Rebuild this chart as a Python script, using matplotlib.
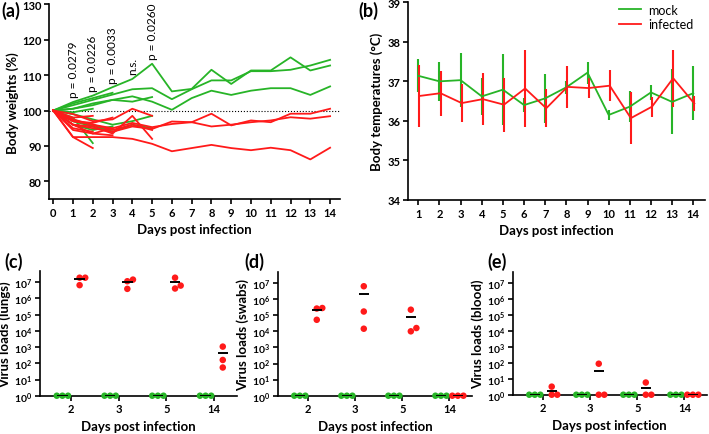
import numpy as np
import matplotlib.pyplot as plt

plt.rcParams['font.family'] = ['Lato', 'DejaVu Sans']
plt.rcParams['mathtext.fontset'] = 'custom'
plt.rcParams['mathtext.rm'] = 'Lato'
plt.rcParams['mathtext.bf'] = 'Lato:bold'

GREEN = '#27b427'
RED = '#ff1a1a'

# (a) body weights (%) per mouse, from day 0
mock_weights = [
    [100, 98, 90.8],
    [100, 99.5, 100.5],
    [100, 97, 95.5],
    [100, 102, 103.5, 105],
    [100, 97, 96, 94],
    [100, 96, 94.5, 95.5],
    [100, 99, 97.5, 96, 97, 98.5],
    [100, 97.5, 95.5, 94, 96, 95],
    [100, 100.5, 102, 103, 102.5, 103.8],
    [100, 102.4, 104.2, 106.6, 108.9, 113.2, 105.4, 106.1, 111.5, 107.5, 111.3, 111.3, 115, 111.3, 112.7],
    [100, 101.5, 103, 104.5, 106, 106.3, 103.2, 106, 108.5, 108.5, 111.1, 111.1, 111.5, 112.7, 114.3],
    [100, 100.5, 101.5, 103, 104, 102.5, 100.2, 103.5, 105.6, 104.4, 105.6, 106.3, 106.3, 104.4, 106.8],
]
infected_weights = [
    [100, 92.5, 89.4],
    [100, 95, 94],
    [100, 98, 98.5],
    [100, 94.5, 93.5, 93],
    [100, 97, 96.5, 98],
    [100, 96, 93.5, 95],
    [100, 96, 95.5, 93.5, 98.5, 92],
    [100, 99, 97, 97.5, 100.5, 98.5],
    [100, 97.5, 96, 94.5, 96, 94.5],
    [100, 92.5, 92.5, 92.5, 92, 90.6, 88.5, 89.4, 90.3, 89.4, 88.8, 89.5, 88.8, 86.2, 89.5],
    [100, 96, 95, 94, 95.5, 94.8, 96.9, 96.7, 99.1, 95.8, 97.2, 96.7, 99.1, 99.1, 100.5],
    [100, 97, 96, 95, 96.5, 95.3, 96.2, 96.7, 95.5, 96.0, 96.7, 97.2, 98.1, 97.7, 98.4],
]
pval_days = [1, 2, 3, 4, 5]
pval_text = ['p = 0.0279', 'p = 0.0226', 'p = 0.0033', 'n.s.', 'p = 0.0260']

# (b) body temperature, mean and SD
temp_days = np.arange(1, 15)
mock_temp = [37.14, 37.0, 37.03, 36.62, 36.79, 36.4, 36.57, 36.85, 37.22, 36.15, 36.36, 36.72, 36.48, 36.7]
mock_sd = [0.42, 0.5, 0.68, 0.46, 0.9, 0.18, 0.62, 0.17, 0.28, 0.12, 0.4, 0.2, 0.82, 0.68]
inf_temp = [36.63, 36.7, 36.45, 36.55, 36.41, 36.82, 36.32, 36.86, 36.83, 36.89, 36.07, 36.36, 37.08, 36.44]
inf_sd = [0.78, 0.57, 0.48, 0.66, 0.68, 0.98, 0.48, 0.54, 0.25, 0.39, 0.65, 0.25, 0.72, 0.18]

# (c)-(e) virus loads
load_days = ['2', '3', '5', '14']
lungs_mock = [[1, 1, 1]] * 4
lungs_inf = [[1.9e7, 6.6e6, 1.9e7], [1.45e7, 3.9e6, 1.15e7], [1.9e7, 4.1e6, 6.2e6], [1.07e3, 160, 55]]
swabs_mock = [[1, 1, 1]] * 4
swabs_inf = [[2.8e5, 2.6e5, 5.2e4], [6.3e6, 1.7e5, 1.45e4], [2.2e5, 1.0e4, 1.6e4], [1, 1, 1]]
blood_mock = [[1, 1, 1]] * 4
blood_inf = [[3.2, 1, 1], [87, 1, 1], [5.8, 1, 1], [1, 1, 1]]

fig = plt.figure(figsize=(7.09, 4.35), dpi=100)


def style(ax):
    for s in ['top', 'right']:
        ax.spines[s].set_visible(False)
    for s in ['left', 'bottom']:
        ax.spines[s].set_linewidth(1.2)
    ax.tick_params(width=1.2, length=3.5, labelsize=8, pad=2)
    for lab in ax.get_xticklabels() + ax.get_yticklabels():
        lab.set_fontweight('bold')


# ---- (a)
ax = fig.add_axes([0.0695, 0.540, 0.41, 0.448])
ax.axhline(100, color='k', ls=':', lw=0.8, zorder=1)
for w in mock_weights:
    ax.plot(np.arange(len(w)), w, color=GREEN, lw=1.3, zorder=2)
for w in infected_weights:
    ax.plot(np.arange(len(w)), w, color=RED, lw=1.3, zorder=3)
for d, t in zip(pval_days, pval_text):
    top = max(w[d] for w in mock_weights if len(w) > d)
    ax.text(d, top + 1.3, t, rotation=90, ha='center', va='bottom', fontsize=8.5)
ax.set_xlim(-0.2, 14.5)
ax.set_ylim(75, 130)
ax.set_xticks(range(15))
ax.set_yticks([80, 90, 100, 110, 120, 130])
ax.set_xlabel('Days post infection', fontsize=9.5, fontweight='bold', labelpad=4)
ax.set_ylabel('Body weights (%)', fontsize=9.5, fontweight='bold', labelpad=2)
style(ax)
fig.text(0.002, 0.975, '(a)', fontsize=13, fontweight='bold', va='center')

# ---- (b)
ax = fig.add_axes([0.576, 0.538, 0.4185, 0.4545])
ax.errorbar(temp_days, mock_temp, yerr=mock_sd, color=GREEN, lw=1.3, elinewidth=1.5, label='mock')
ax.errorbar(temp_days + 0.05, inf_temp, yerr=inf_sd, color=RED, lw=1.3, elinewidth=1.5, label='infected')
ax.set_xlim(0.53, 14.56)
ax.set_ylim(34, 39)
ax.set_xticks(temp_days)
ax.set_yticks([34, 35, 36, 37, 38, 39])
ax.set_xlabel('Days post infection', fontsize=9.5, fontweight='bold', labelpad=4)
ax.set_ylabel('Body temperatures (°C)', fontsize=9.5, fontweight='bold', labelpad=3)
handles, labels = ax.get_legend_handles_labels()
handles = [h[0] for h in handles]
ax.legend(handles, labels, loc='upper right', bbox_to_anchor=(1.0, 1.05), frameon=False,
          fontsize=9, handlelength=1.8, handletextpad=0.6, labelspacing=0.2)
style(ax)
fig.text(0.505, 0.975, '(b)', fontsize=13, fontweight='bold', va='center')

# ---- (c)-(e)
PX_UNIT = 47.5
PX_DEC = 16.2
DOT_PX = 5.6


def swarm(vals, center):
    xs = np.zeros(len(vals))
    placed = []
    for i in np.argsort(vals, kind='stable'):
        y = np.log10(vals[i]) * PX_DEC
        for k in [0, 1, -1, 2, -2, 3, -3]:
            x = k * DOT_PX
            if all(np.hypot(x - px, y - py) >= DOT_PX * 0.95 for px, py in placed):
                break
        placed.append((x, y))
        xs[i] = center + x / PX_UNIT
    return xs


def loads_panel(rect, mock, inf, ylabel, letter, lx):
    ax = fig.add_axes(rect)
    for i in range(len(load_days)):
        for vals, off, col in [(mock[i], -0.18, GREEN), (inf[i], 0.18, RED)]:
            xs = swarm(vals, i + off)
            ax.scatter(xs, vals, s=22, color=col, edgecolors='none', zorder=3, clip_on=False)
            ax.hlines(np.mean(vals), i + off - 0.11, i + off + 0.11, color='k', lw=1.4, zorder=4)
    ax.set_yscale('log')
    ax.set_ylim(1, 10 ** 7.7)
    ax.set_xlim(-0.65, 3.48)
    ax.set_yticks([10 ** k for k in range(8)])
    ax.set_yticklabels([r'$\mathbf{10^{%d}}$' % k for k in range(8)])
    ax.yaxis.set_minor_locator(plt.NullLocator())
    ax.set_xticks(range(len(load_days)))
    ax.set_xticklabels(load_days)
    ax.set_xlabel('Days post infection', fontsize=9.5, fontweight='bold', labelpad=4)
    ax.set_ylabel(ylabel, fontsize=9.5, fontweight='bold', labelpad=2)
    style(ax)
    ax.tick_params(axis='y', labelsize=7.5)
    fig.text(lx, 0.398, letter, fontsize=13, fontweight='bold', va='center')


loads_panel([0.0564, 0.088, 0.278, 0.287], lungs_mock, lungs_inf, 'Virus loads (lungs)', '(c)', 0.006)
loads_panel([0.3917, 0.088, 0.274, 0.285], swabs_mock, swabs_inf, 'Virus loads (swabs)', '(d)', 0.345)
loads_panel([0.7231, 0.0903, 0.274, 0.283], blood_mock, blood_inf, 'Virus loads (blood)', '(e)', 0.688)

fig.savefig('out.png', dpi=100)
